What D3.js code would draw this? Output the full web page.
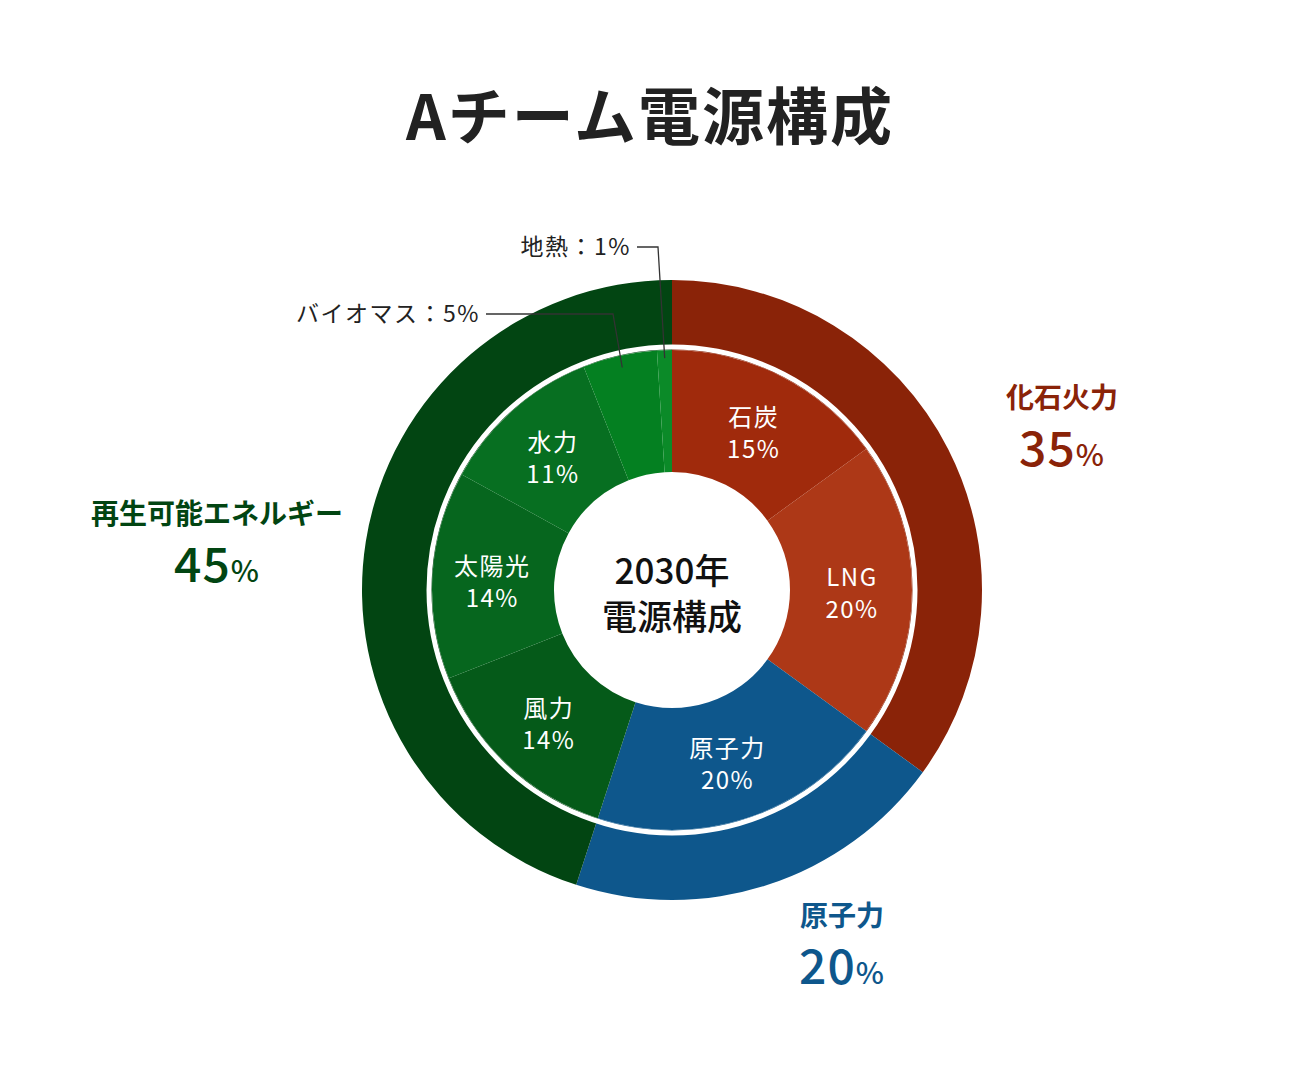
<!DOCTYPE html><html><head><meta charset="utf-8"><script src="https://cdn.jsdelivr.net/npm/d3@7"></script>
<style>body{margin:0;background:#fff}text{font-family:"Noto Sans CJK JP","Noto Sans",sans-serif}</style></head><body>
<svg id="c" width="1299" height="1083"></svg>
<script>
const outerNames=["化石火力","原子力","再生可能エネルギー"];
const outerValues=[35,20,45];
const outerColors=["#8a2308","#0e578c","#024512"];
const innerNames=["石炭","LNG","原子力","風力","太陽光","水力","バイオマス","地熱"];
const innerValues=[15,20,20,14,14,11,5,1];
const innerColors=["#a02a0c","#ad3817","#0e578c","#055a19","#06661e","#076f21","#048021","#0b8a28"];
const svg=d3.select("#c"),cx=672,cy=590;
svg.append("text").attr("x",650).attr("y",140).attr("text-anchor","middle").attr("font-size",62).attr("font-weight",700).attr("letter-spacing",2).attr("fill","#222").text("Aチーム電源構成");
const g=svg.append("g").attr("transform",`translate(${cx},${cy})`);
const pie=d3.pie().sort(null).value(d=>d);
const oa=pie(outerValues), ia=pie(innerValues);
const arcO=d3.arc().innerRadius(240).outerRadius(310);
const arcI=d3.arc().innerRadius(118).outerRadius(240);
g.selectAll(".o").data(oa).join("path").attr("d",arcO).attr("fill",(d,i)=>outerColors[i]);
g.selectAll(".i").data(ia).join("path").attr("d",arcI).attr("fill",(d,i)=>innerColors[i]);
g.append("circle").attr("r",243).attr("fill","none").attr("stroke","#fff").attr("stroke-width",5);
const lab=d3.arc().innerRadius(180).outerRadius(180);
ia.forEach((d,i)=>{ if(innerValues[i]<6) return;
 const [x,y]=lab.centroid(d);
 const t=g.append("text").attr("text-anchor","middle").attr("fill","#fff").attr("font-size",24).attr("letter-spacing",1.5);
 t.append("tspan").attr("x",x).attr("y",y-4).text(innerNames[i]);
 t.append("tspan").attr("x",x).attr("y",y+28).text(innerValues[i]+"%");
});
const ct=g.append("text").attr("text-anchor","middle").attr("font-size",35).attr("font-weight",500).attr("fill","#111");
ct.append("tspan").attr("x",0).attr("y",-6).text("2030年");
ct.append("tspan").attr("x",0).attr("y",40).text("電源構成");
const olab=[[1062,408],[842,926],[217,524]];
oa.forEach((d,i)=>{
 const [x,y]=olab[i];
 svg.append("text").attr("x",x).attr("y",y).attr("text-anchor","middle").attr("font-size",28).attr("font-weight",700).attr("fill",outerColors[i]).text(outerNames[i]);
 const t=svg.append("text").attr("x",x).attr("y",y+58).attr("text-anchor","middle").attr("fill",outerColors[i]).attr("font-weight",500).attr("letter-spacing",1);
 t.append("tspan").attr("font-size",48).text(outerValues[i]);
 t.append("tspan").attr("font-size",30).text("%");
});
const small=[{i:6,tx:480,ty:314,kx:613,r:228},{i:7,tx:631,ty:247,kx:658,r:232}];
small.forEach(s=>{
 const d=ia[s.i], a=(d.startAngle+d.endAngle)/2;
 const px=cx+Math.sin(a)*s.r, py=cy-Math.cos(a)*s.r;
 svg.append("text").attr("x",s.tx).attr("y",s.ty+8).attr("text-anchor","end").attr("font-size",23).attr("letter-spacing",1.5).attr("fill","#222").text(innerNames[s.i]+"："+innerValues[s.i]+"%");
 svg.append("path").attr("d",`M${s.tx+6},${s.ty}H${s.kx}L${px},${py}`).attr("fill","none").attr("stroke","#333").attr("stroke-width",1.3);
});
</script></body></html>
